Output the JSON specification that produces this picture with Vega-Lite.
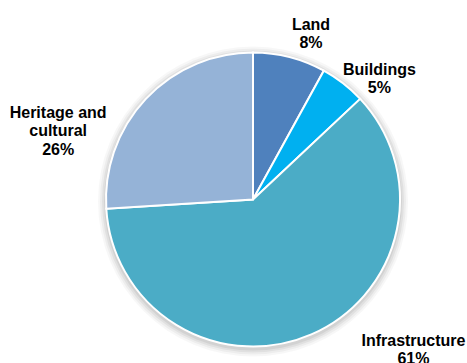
{
  "$schema": "https://vega.github.io/schema/vega-lite/v6.json",
  "autosize": "none",
  "width": 426,
  "height": 327,
  "padding": {"left": 40, "top": 36, "right": 1, "bottom": 0},
  "background": "#ffffff",
  "config": {"view": {"stroke": null}},
  "data": {
    "values": [
      {"name": "Land", "value": 8, "rank": 1},
      {"name": "Buildings", "value": 5, "rank": 2},
      {"name": "Infrastructure", "value": 61, "rank": 3},
      {"name": "Heritage and\ncultural", "value": 26, "rank": 4}
    ]
  },
  "transform": [
    {"calculate": "datum.name + '\\n' + datum.value + '%'", "as": "caption"}
  ],
  "layer": [
    {
      "data": {"values": [{}]},
      "mark": {"type": "arc", "theta": 0, "theta2": 6.2832, "radius": 155, "color": "#000000", "opacity": 0.03, "yOffset": 2},
      "encoding": {}
    },
    {
      "data": {"values": [{}]},
      "mark": {"type": "arc", "theta": 0, "theta2": 6.2832, "radius": 153, "color": "#000000", "opacity": 0.04, "yOffset": 2},
      "encoding": {}
    },
    {
      "data": {"values": [{}]},
      "mark": {"type": "arc", "theta": 0, "theta2": 6.2832, "radius": 151, "color": "#000000", "opacity": 0.05, "yOffset": 2},
      "encoding": {}
    },
    {
      "data": {"values": [{}]},
      "mark": {"type": "arc", "theta": 0, "theta2": 6.2832, "radius": 149, "color": "#000000", "opacity": 0.06, "yOffset": 2},
      "encoding": {}
    },
    {
      "mark": {"type": "arc", "radius": 147, "stroke": "#ffffff", "strokeWidth": 2},
      "encoding": {
        "theta": {"field": "value", "type": "quantitative", "stack": true},
        "order": {"field": "rank", "type": "quantitative"},
        "color": {
          "field": "name",
          "type": "nominal",
          "scale": {
            "domain": ["Land", "Buildings", "Infrastructure", "Heritage and\ncultural"],
            "range": ["#4F81BD", "#00B0F0", "#4BACC6", "#95B3D7"]
          },
          "legend": null
        }
      }
    },
    {
      "mark": {"type": "text", "radius": 185, "dx": 12, "dy": 10, "align": "center", "baseline": "alphabetic", "font": "Liberation Sans", "fontSize": 16, "fontWeight": "bold", "color": "#000000", "lineBreak": "\n", "lineHeight": 18},
      "encoding": {
        "theta": {"field": "value", "type": "quantitative", "stack": true},
        "order": {"field": "rank", "type": "quantitative"},
        "detail": {"field": "name", "type": "nominal"},
        "text": {"condition": {"test": "datum.name === 'Land'", "field": "caption", "type": "nominal"}, "value": ""}
      }
    },
    {
      "mark": {"type": "text", "radius": 185, "dx": 13, "dy": 22, "align": "center", "baseline": "alphabetic", "font": "Liberation Sans", "fontSize": 16, "fontWeight": "bold", "color": "#000000", "lineBreak": "\n", "lineHeight": 18},
      "encoding": {
        "theta": {"field": "value", "type": "quantitative", "stack": true},
        "order": {"field": "rank", "type": "quantitative"},
        "detail": {"field": "name", "type": "nominal"},
        "text": {"condition": {"test": "datum.name === 'Buildings'", "field": "caption", "type": "nominal"}, "value": ""}
      }
    },
    {
      "mark": {"type": "text", "radius": 185, "dx": 87, "dy": -23, "align": "center", "baseline": "alphabetic", "font": "Liberation Sans", "fontSize": 16, "fontWeight": "bold", "color": "#000000", "lineBreak": "\n", "lineHeight": 18},
      "encoding": {
        "theta": {"field": "value", "type": "quantitative", "stack": true},
        "order": {"field": "rank", "type": "quantitative"},
        "detail": {"field": "name", "type": "nominal"},
        "text": {"condition": {"test": "datum.name === 'Infrastructure'", "field": "caption", "type": "nominal"}, "value": ""}
      }
    },
    {
      "mark": {"type": "text", "radius": 185, "dx": -60, "dy": 45, "align": "center", "baseline": "alphabetic", "font": "Liberation Sans", "fontSize": 16, "fontWeight": "bold", "color": "#000000", "lineBreak": "\n", "lineHeight": 18.5},
      "encoding": {
        "theta": {"field": "value", "type": "quantitative", "stack": true},
        "order": {"field": "rank", "type": "quantitative"},
        "detail": {"field": "name", "type": "nominal"},
        "text": {"condition": {"test": "datum.rank === 4", "field": "caption", "type": "nominal"}, "value": ""}
      }
    }
  ]
}
